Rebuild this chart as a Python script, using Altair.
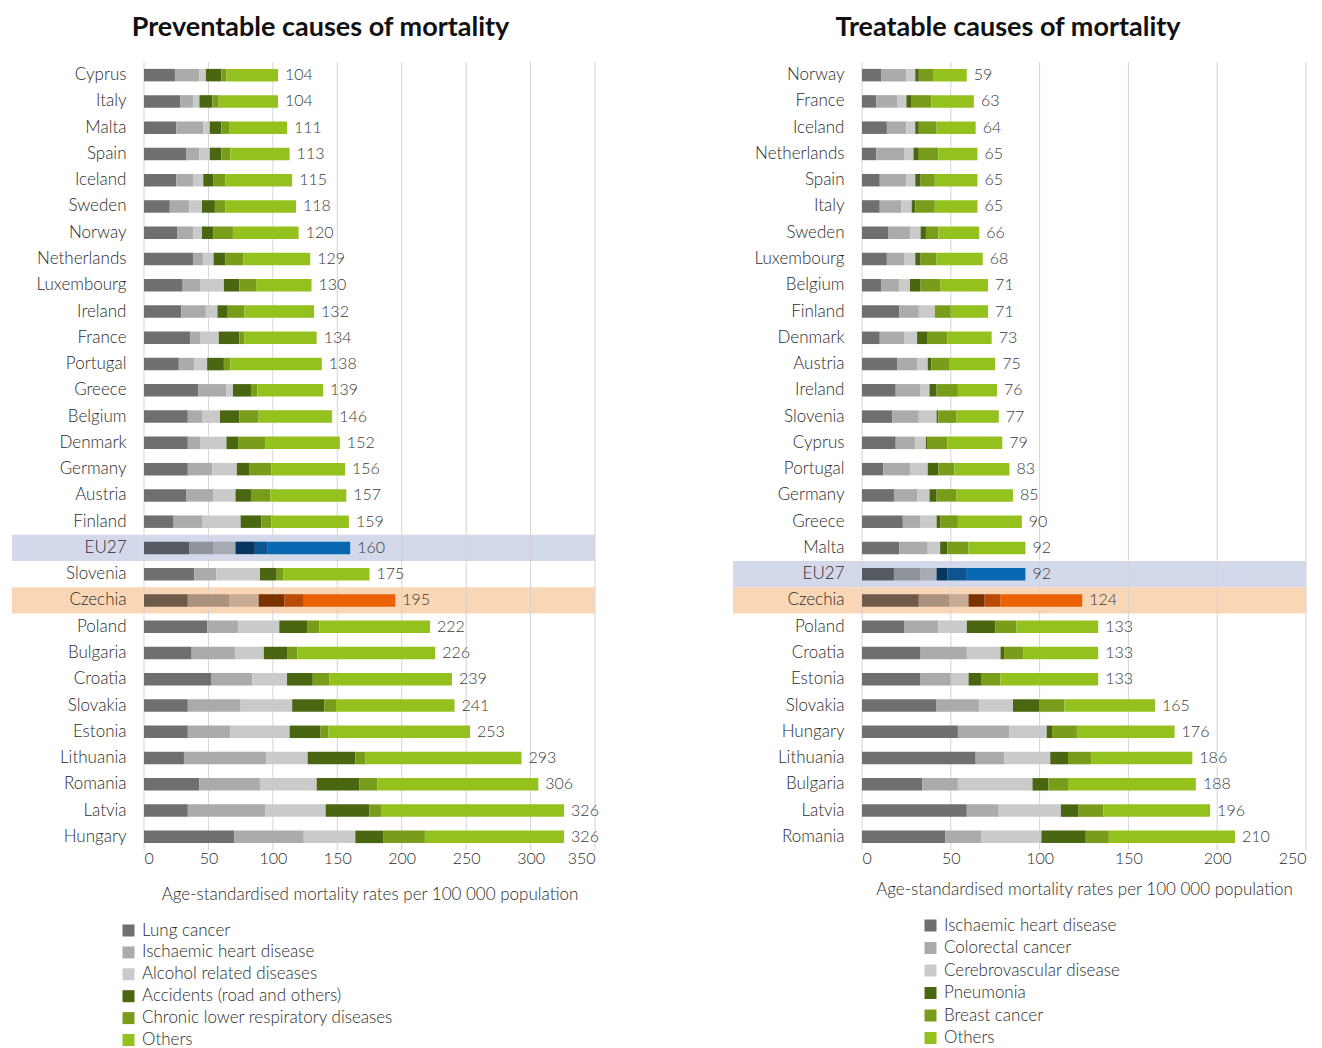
import altair as alt
import pandas as pd

FONT = "Lato"
TXT = "#2b2b2b"

# ---------------- Preventable causes (left) ----------------
causes_left = ["Lung cancer", "Ischaemic heart disease", "Alcohol related diseases",
               "Accidents (road and others)", "Chronic lower respiratory diseases", "Others"]
left_countries = ["Cyprus", "Italy", "Malta", "Spain", "Iceland", "Sweden", "Norway", "Netherlands",
                  "Luxembourg", "Ireland", "France", "Portugal", "Greece", "Belgium", "Denmark",
                  "Germany", "Austria", "Finland", "EU27", "Slovenia", "Czechia", "Poland", "Bulgaria",
                  "Croatia", "Slovakia", "Estonia", "Lithuania", "Romania", "Latvia", "Hungary"]
left_totals = [104, 104, 111, 113, 115, 118, 120, 129, 130, 132, 134, 138, 139, 146, 152,
               156, 157, 159, 160, 175, 195, 222, 226, 239, 241, 253, 293, 306, 326, 326]
left_lung = [24, 28, 25, 33, 25, 20, 26, 38, 30, 29, 36, 27, 42, 34, 34,
             34, 33, 23, 35, 39, 34, 49, 37, 52, 34, 34, 31, 43, 34, 70]
left_ihd = [19, 10, 21, 10, 13, 15, 12, 8, 14, 19, 8, 12, 22, 11, 10,
            19, 21, 22, 19, 17, 32, 24, 34, 32, 41, 33, 64, 47, 60, 54]
left_alcohol = [5, 5, 5, 8, 8, 10, 7, 8, 18, 9, 14, 10, 5, 14, 20,
                19, 17, 30, 17, 34, 23, 32, 22, 27, 40, 46, 32, 44, 47, 40]
left_accidents = [12, 10, 9, 9, 8, 10, 9, 9, 12, 8, 16, 13, 14, 15, 9,
                  10, 12, 16, 15, 13, 20, 22, 18, 20, 25, 24, 37, 33, 34, 22]
left_clrd = [4, 5, 6, 7, 9, 8, 15, 14, 13, 13, 4, 5, 5, 15, 21,
             17, 15, 8, 10, 5, 15, 9, 8, 13, 9, 6, 8, 14, 9, 32]
left_others = [40, 46, 45, 46, 52, 55, 51, 52, 43, 54, 56, 71, 51, 57, 58,
               57, 59, 60, 64, 67, 71, 86, 107, 95, 92, 110, 121, 125, 142, 108]

# ---------------- Treatable causes (right) ----------------
causes_right = ["Ischaemic heart disease", "Colorectal cancer", "Cerebrovascular disease",
                "Pneumonia", "Breast cancer", "Others"]
right_countries = ["Norway", "France", "Iceland", "Netherlands", "Spain", "Italy", "Sweden",
                   "Luxembourg", "Belgium", "Finland", "Denmark", "Austria", "Ireland", "Slovenia",
                   "Cyprus", "Portugal", "Germany", "Greece", "Malta", "EU27", "Czechia", "Poland",
                   "Croatia", "Estonia", "Slovakia", "Hungary", "Lithuania", "Bulgaria", "Latvia", "Romania"]
right_totals = [59, 63, 64, 65, 65, 65, 66, 68, 71, 71, 73, 75, 76, 77, 79,
                83, 85, 90, 92, 92, 124, 133, 133, 133, 165, 176, 186, 188, 196, 210]
right_ihd = [11, 8, 14, 8, 10, 10, 15, 14, 11, 21, 10, 20, 19, 17, 19,
             12, 18, 23, 21, 18, 32, 24, 33, 33, 42, 54, 64, 34, 59, 47]
right_colorectal = [14, 12, 11, 16, 15, 12, 12, 10, 10, 11, 14, 11, 14, 15, 11,
                    15, 13, 10, 16, 15, 17, 19, 26, 17, 24, 29, 16, 20, 18, 20]
right_cerebro = [5, 5, 5, 5, 5, 6, 6, 6, 6, 9, 7, 6, 5, 10, 6,
                 10, 7, 9, 7, 9, 11, 16, 19, 10, 19, 21, 26, 42, 35, 34]
right_pneumonia = [2, 3, 2, 3, 3, 2, 3, 3, 6, 0, 6, 2, 4, 1, 1,
                   6, 4, 2, 4, 6, 9, 16, 2, 7, 15, 3, 10, 9, 10, 25]
right_breast = [8, 11, 10, 11, 8, 11, 7, 9, 11, 9, 11, 10, 12, 10, 11,
                9, 11, 10, 12, 11, 9, 12, 11, 11, 14, 14, 13, 11, 14, 13]
right_others = [19, 24, 22, 22, 24, 24, 23, 26, 27, 21, 25, 26, 22, 24, 31,
                31, 32, 36, 32, 33, 46, 46, 42, 55, 51, 55, 57, 72, 60, 71]

# ---------------- styles ----------------
normal_cols = ["#6f6f6f", "#ababab", "#cacaca", "#4b6611", "#7a9c1b", "#95c11f"]
eu_cols = ["#555a63", "#8e939c", "#a5aab3", "#07365e", "#0e5490", "#0767b0"]
cz_cols = ["#6e5a4a", "#aa927f", "#c8ab94", "#7a3300", "#b94b06", "#eb6103"]
EU_BAND = "#d3d9ea"
CZ_BAND = "#f9d6b5"
XTITLE = "Age-standardised mortality rates per 100 000 population"
LW = 300  # light text weight


def panel(countries, totals, segs, causes, title, xmax, width, band_left, title_dx,
          legend_x, legend_y, row_pad, title_pad):
    rows = []
    for ci, c in enumerate(countries):
        for k, cause in enumerate(causes):
            if c == "EU27":
                key = cause + " \u00b7 EU27"
            elif c == "Czechia":
                key = cause + " \u00b7 Czechia"
            else:
                key = cause
            rows.append(dict(country=c, cause=cause, value=segs[k][ci], order=k, key=key))
    df = pd.DataFrame(rows)
    tot = pd.DataFrame(dict(country=countries, total=totals))
    domain = causes + [c + " \u00b7 EU27" for c in causes] + [c + " \u00b7 Czechia" for c in causes]
    rng = normal_cols + eu_cols + cz_cols
    ticks = list(range(0, xmax + 1, 50))

    yscale = alt.Scale(domain=countries, paddingInner=0, paddingOuter=0)
    xscale = alt.Scale(domain=[0, xmax], nice=False)
    xaxis = alt.Axis(values=ticks, grid=False, domain=False, ticks=False,
                     labelFontSize=16, labelColor=TXT, labelPadding=0, labelFont=FONT,
                     labelFontWeight=LW,
                     title=XTITLE, titleFontSize=17, titleFontWeight=LW,
                     titleColor=TXT, titlePadding=title_pad, titleFont=FONT)
    yaxis = alt.Axis(title=None, ticks=False, domain=False, labelPadding=18,
                     labelFontSize=17, labelColor=TXT, labelFont=FONT, labelFontWeight=LW)
    Y = alt.Y("country:N", scale=yscale, axis=yaxis, title=None)

    band_eu = alt.Chart(pd.DataFrame(dict(country=["EU27"]))).mark_rect(color=EU_BAND).encode(
        y=Y, x=alt.value(band_left), x2=alt.value(width))
    band_cz = alt.Chart(pd.DataFrame(dict(country=["Czechia"]))).mark_rect(color=CZ_BAND).encode(
        y=Y, x=alt.value(band_left), x2=alt.value(width))
    grid = alt.Chart(pd.DataFrame(dict(tick=ticks))).mark_rule(color="#d4d4d4", strokeWidth=1).encode(
        x=alt.X("tick:Q", scale=xscale, axis=xaxis, title=XTITLE))

    bars = alt.Chart(df).mark_bar(height=12.5).encode(
        x=alt.X("value:Q", stack="zero", scale=xscale, axis=xaxis, title=XTITLE),
        y=Y,
        color=alt.Color("key:N", scale=alt.Scale(domain=domain, range=rng),
                        legend=alt.Legend(values=causes, orient="none", legendX=legend_x,
                                          legendY=legend_y, title=None, symbolType="square",
                                          symbolSize=144, symbolStrokeWidth=0, labelFontSize=17,
                                          labelColor=TXT, labelFont=FONT, labelFontWeight=LW,
                                          rowPadding=row_pad, labelOffset=5, padding=0,
                                          labelLimit=0)),
        order=alt.Order("order:Q"),
    )
    labels = alt.Chart(tot).mark_text(align="left", baseline="middle", dx=7, fontSize=16,
                                      color="#3a3a3a", font=FONT, fontWeight=LW).encode(
        x=alt.X("total:Q", scale=xscale, axis=xaxis, title=XTITLE), y=Y, text="total:Q")

    return alt.layer(band_eu, band_cz, grid, bars, labels).properties(
        width=width, height=788,
        title=alt.TitleParams(title, fontSize=27, fontWeight="bold", font=FONT, color="#111111",
                              anchor="middle", dx=title_dx, offset=20))


left = panel(left_countries, left_totals,
             [left_lung, left_ihd, left_alcohol, left_accidents, left_clrd, left_others],
             causes_left, "Preventable causes of mortality", 350, 451, -132, -49, -24, 860, 3.9, 20)
right = panel(right_countries, right_totals,
              [right_ihd, right_colorectal, right_cerebro, right_pneumonia, right_breast, right_others],
              causes_right, "Treatable causes of mortality", 250, 444, -129, -76, 60, 855, 4.5, 15)

chart = alt.hconcat(left, right, spacing=134).resolve_scale(color="independent").properties(
    padding={"left": 4, "top": 5, "right": 0, "bottom": 0}
).configure_view(stroke=None)

chart.save("out.html", embed_options={"renderer": "svg", "actions": False})
